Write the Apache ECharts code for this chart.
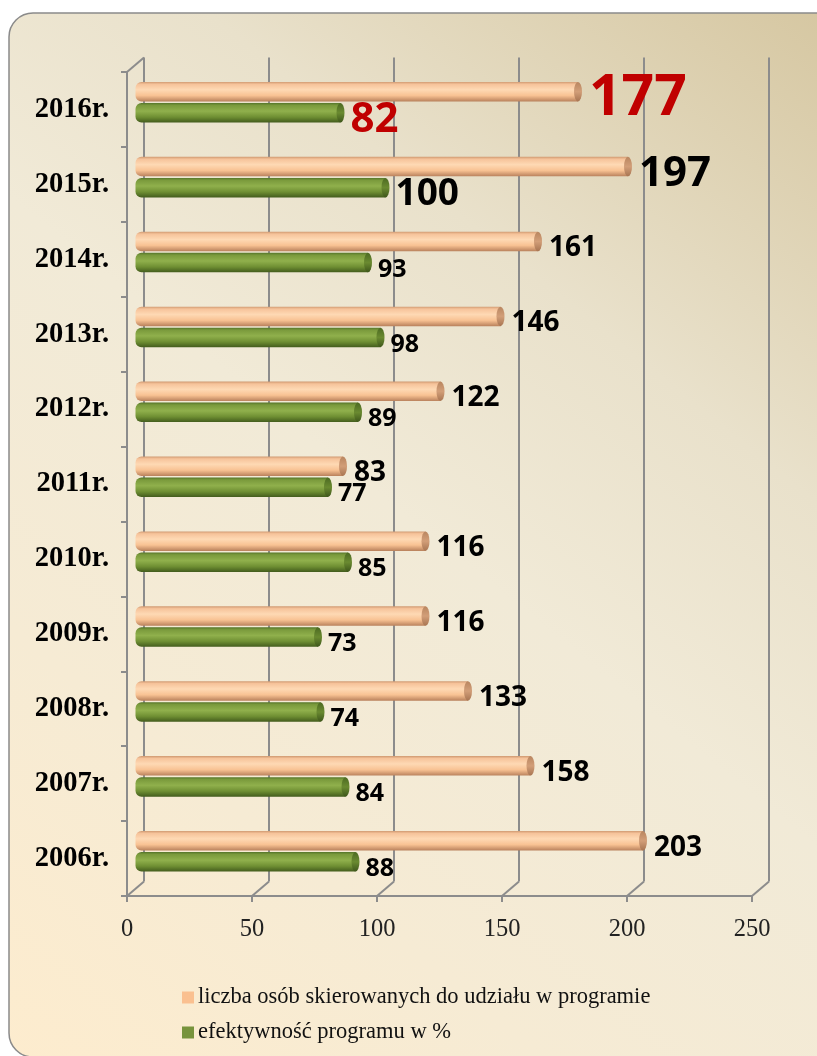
<!DOCTYPE html>
<html>
<head>
<meta charset="utf-8">
<style>
  html, body { margin: 0; padding: 0; background: #ffffff; }
  #chart { width: 817px; height: 1056px; }
</style>
<script src="https://cdn.jsdelivr.net/npm/echarts@6/dist/echarts.min.js"></script>
</head>
<body>
<div id="chart"></div>
<script>
// Years, bottom to top
const categories = ['2006r.', '2007r.', '2008r.', '2009r.', '2010r.', '2011r.', '2012r.', '2013r.', '2014r.', '2015r.', '2016r.'];
// number of people referred to the programme
const referred = [203, 158, 133, 116, 116, 83, 122, 146, 161, 197, 177];
// programme effectiveness in %
const effectiveness = [88, 84, 74, 73, 85, 77, 89, 98, 93, 100, 82];
// value-axis ticks
const xTicks = [0, 50, 100, 150, 200, 250];

const seriesNames = ['liczba osób skierowanych do udziału w programie', 'efektywność programu w %'];
const seriesColors = ['#fac090', '#77933c'];

// larger / coloured labels for the latest years
const labelEmphasis = {
  '2015r.': { referred: { fontSize: 42, color: '#000000' }, effectiveness: { fontSize: 37, color: '#000000' } },
  '2016r.': { referred: { fontSize: 57, color: '#c00000' }, effectiveness: { fontSize: 42, color: '#c00000' } }
};

// pseudo-3D frame: back wall is shifted by a depth offset from the front plane
const FRONT = { left: 127, top: 72, width: 625, height: 824 };
const DEPTH_X = 17, DEPTH_Y = 14.5;
const BACK = { left: FRONT.left + DEPTH_X, top: FRONT.top - DEPTH_Y, width: FRONT.width, height: FRONT.height };
const MID = { left: FRONT.left + DEPTH_X / 2, top: FRONT.top - DEPTH_Y / 2, width: FRONT.width, height: FRONT.height };

const GRAY = '#8c8c8c';
const LABEL_FONT = '"Open Sans", "DejaVu Sans", sans-serif';
const SERIF = '"Liberation Serif", "DejaVu Serif", serif';

function vGrad(stops) {
  return new echarts.graphic.LinearGradient(0, 0, 0, 1, stops.map(c => ({ offset: c[0], color: c[1] })));
}

const orangeBody = vGrad([[0, '#d09a72'], [0.12, '#f6c39a'], [0.4, '#fed9b4'], [0.7, '#f8c293'], [1, '#b9815c']]);
const greenBody = vGrad([[0, '#55752a'], [0.12, '#7a9a3c'], [0.42, '#90b04c'], [0.72, '#6f8f33'], [1, '#435c1d']]);
const orangeCap = vGrad([[0, '#b98660'], [0.5, '#d29e78'], [1, '#a87552']]);
const greenCap = vGrad([[0, '#4c6a22'], [0.5, '#6a8a30'], [1, '#3e561b']]);

function barData(values, key, baseSize) {
  return values.map((v, i) => {
    const em = labelEmphasis[categories[i]];
    const st = em ? em[key] : { fontSize: baseSize, color: '#000000' };
    return { value: v, label: { fontSize: st.fontSize, color: st.color } };
  });
}

const BAR_W = 19.5;
const BAR_GAP = '8%';
const CAP_SHIFT = (BAR_W * 1.08) / 2;

const chart = echarts.init(document.getElementById('chart'), null, { renderer: 'canvas' });

chart.setOption({
  animation: false,
  graphic: [{
    type: 'rect',
    z: -100,
    shape: { x: 9, y: 13, width: 840, height: 1044, r: 24 },
    style: {
      fill: new echarts.graphic.LinearGradient(1, 0, 0, 1, [
        { offset: 0, color: '#d5c6a0' },
        { offset: 0.3, color: '#e9e1cb' },
        { offset: 0.5, color: '#f1ead7' },
        { offset: 0.75, color: '#f6ebd4' },
        { offset: 1, color: '#fdecce' }
      ]),
      stroke: '#8a8a8a',
      lineWidth: 1.5
    }
  }],
  legend: {
    orient: 'vertical',
    left: 177,
    top: 981,
    itemWidth: 12,
    itemHeight: 12,
    itemGap: 12,
    icon: 'rect',
    textStyle: { fontFamily: SERIF, fontSize: 22.5, color: '#111111', padding: [0, 0, 0, -1] },
    data: seriesNames.map((n, i) => ({ name: n, itemStyle: { color: seriesColors[i] } }))
  },
  grid: [
    Object.assign({ containLabel: false }, BACK),
    Object.assign({ containLabel: false }, FRONT),
    Object.assign({ containLabel: false }, MID)
  ],
  xAxis: [
    {
      gridIndex: 0, type: 'value', min: 0, max: 250, interval: 50,
      axisLine: { show: false }, axisTick: { show: false }, axisLabel: { show: false },
      splitLine: { show: true, lineStyle: { color: GRAY, width: 2 } }
    },
    {
      gridIndex: 1, type: 'value', min: 0, max: 250, interval: 50,
      axisLine: { show: true, lineStyle: { color: GRAY, width: 2 } },
      axisTick: { show: true, length: 6, lineStyle: { color: GRAY, width: 2 } },
      splitLine: { show: false },
      axisLabel: {
        margin: 21, fontFamily: SERIF, fontSize: 24.5, color: '#222222',
        formatter: v => (xTicks.indexOf(v) >= 0 ? String(v) : '')
      }
    },
    {
      gridIndex: 2, type: 'value', min: 0, max: 250, interval: 50, show: false
    }
  ],
  yAxis: [
    { gridIndex: 0, type: 'category', data: categories, show: false },
    {
      gridIndex: 1, type: 'category', data: categories,
      axisLine: { show: true, lineStyle: { color: GRAY, width: 2 } },
      axisTick: { show: true, length: 6, lineStyle: { color: GRAY, width: 2 } },
      axisLabel: { margin: 18, fontFamily: SERIF, fontSize: 28.5, fontWeight: 'bold', color: '#000000' }
    },
    { gridIndex: 2, type: 'category', data: categories, show: false }
  ],
  series: [
    // depth connectors from the front axes to the back wall
    {
      type: 'custom',
      xAxisIndex: 1, yAxisIndex: 1,
      silent: true,
      data: xTicks.map(v => [v, 0]),
      renderItem: function (params, api) {
        const cs = params.coordSys;
        const x = api.coord([api.value(0), 0])[0];
        const bottom = cs.y + cs.height;
        const children = [{
          type: 'line',
          shape: { x1: x, y1: bottom, x2: x + DEPTH_X, y2: bottom - DEPTH_Y },
          style: { stroke: GRAY, lineWidth: 2 }
        }];
        if (params.dataIndex === 0) {
          children.push({
            type: 'line',
            shape: { x1: cs.x, y1: cs.y, x2: cs.x + DEPTH_X, y2: cs.y - DEPTH_Y },
            style: { stroke: GRAY, lineWidth: 2 }
          });
        }
        return { type: 'group', children: children };
      }
    },
    {
      name: seriesNames[0],
      type: 'bar',
      xAxisIndex: 2, yAxisIndex: 2,
      barWidth: BAR_W,
      barGap: BAR_GAP,
      z: 3,
      itemStyle: { color: orangeBody, borderRadius: [6, 0, 0, 6] },
      label: {
        show: true, position: 'right', distance: 11, offset: [0, 7],
        fontFamily: LABEL_FONT, fontWeight: 'bold', fontSize: 28, color: '#000000'
      },
      data: barData(referred, 'referred', 28)
    },
    {
      name: seriesNames[1],
      type: 'bar',
      xAxisIndex: 2, yAxisIndex: 2,
      barWidth: BAR_W,
      barGap: BAR_GAP,
      z: 3,
      itemStyle: { color: greenBody, borderRadius: [6, 0, 0, 6] },
      label: {
        show: true, position: 'right', distance: 10, offset: [0, 7],
        fontFamily: LABEL_FONT, fontWeight: 'bold', fontSize: 25, color: '#000000'
      },
      data: barData(effectiveness, 'effectiveness', 25)
    },
    // cylinder end faces
    {
      type: 'scatter',
      xAxisIndex: 2, yAxisIndex: 2,
      silent: true, z: 4,
      symbol: 'circle',
      symbolSize: [8, BAR_W],
      symbolOffset: [0, -CAP_SHIFT],
      itemStyle: { color: orangeCap, opacity: 1 },
      data: referred.map((v, i) => [v, i])
    },
    {
      type: 'scatter',
      xAxisIndex: 2, yAxisIndex: 2,
      silent: true, z: 4,
      symbol: 'circle',
      symbolSize: [8, BAR_W],
      symbolOffset: [0, CAP_SHIFT],
      itemStyle: { color: greenCap, opacity: 1 },
      data: effectiveness.map((v, i) => [v, i])
    }
  ],
  color: seriesColors
});
</script>
</body>
</html>
